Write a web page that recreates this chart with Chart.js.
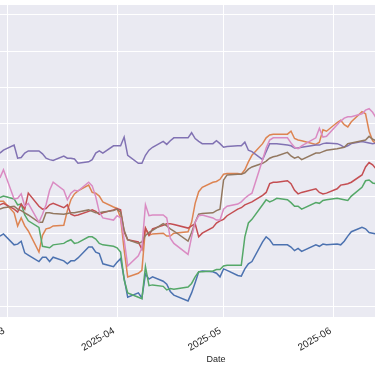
<!DOCTYPE html>
<html><head><meta charset="utf-8">
<script src="https://cdn.jsdelivr.net/npm/chart.js@4/dist/chart.umd.min.js"></script>
<style>
html,body{margin:0;padding:0;background:#fff;overflow:hidden;width:375px;height:366px;}
#wrap{position:absolute;left:0;top:0;width:432px;height:366px;}
</style></head><body>
<div id="wrap"><canvas id="c" width="432" height="366"></canvas></div>
<script>
const dates = ["2025-02-26","2025-02-27","2025-02-28","2025-03-03","2025-03-04","2025-03-05","2025-03-06","2025-03-07","2025-03-10","2025-03-11","2025-03-12","2025-03-13","2025-03-14","2025-03-17","2025-03-18","2025-03-19","2025-03-20","2025-03-21","2025-03-24","2025-03-25","2025-03-26","2025-03-27","2025-03-28","2025-03-31","2025-04-01","2025-04-02","2025-04-03","2025-04-04","2025-04-07","2025-04-08","2025-04-09","2025-04-10","2025-04-11","2025-04-14","2025-04-15","2025-04-16","2025-04-17","2025-04-21","2025-04-22","2025-04-23","2025-04-24","2025-04-25","2025-04-28","2025-04-29","2025-04-30","2025-05-01","2025-05-02","2025-05-05","2025-05-06","2025-05-07","2025-05-08","2025-05-09","2025-05-12","2025-05-13","2025-05-14","2025-05-15","2025-05-16","2025-05-19","2025-05-20","2025-05-21","2025-05-22","2025-05-23","2025-05-27","2025-05-28","2025-05-29","2025-05-30","2025-06-02","2025-06-03","2025-06-04","2025-06-05","2025-06-06","2025-06-09","2025-06-10","2025-06-11","2025-06-12","2025-06-13"];

const blue = [89.3,89.6,89.9,88.4,88.5,88.9,87.3,87.0,86.1,86.7,86.7,86.1,86.7,86.2,85.8,86.2,86.2,86.6,88.1,88.1,87.4,87.2,85.8,85.4,86.0,86.5,83.8,81.2,81.8,81.1,84.4,83.7,84.0,83.4,83.0,82.0,81.5,80.7,81.8,83.2,84.7,84.8,84.7,84.5,84.0,85.1,84.9,84.2,84.1,85.1,85.8,86.1,88.8,89.5,89.1,88.4,88.4,88.4,88.1,87.6,87.9,87.5,88.4,88.2,88.5,88.4,88.5,88.4,88.9,89.6,90.2,90.8,90.6,90.1,90.0,89.9];
const orange = [94.1,94.4,94.4,92.8,91.0,92.1,91.0,90.3,87.4,89.7,90.6,90.7,91.0,91.1,93.1,94.6,95.4,95.8,96.6,95.6,95.5,95.1,94.3,93.6,93.4,92.1,87.7,84.0,84.5,84.9,90.7,89.7,89.9,90.0,89.6,89.6,90.0,90.2,91.5,94.1,95.7,96.3,97.0,97.1,97.4,98.1,98.2,98.2,98.1,98.7,99.8,100.7,102.3,103.1,103.5,103.6,103.6,103.6,104.0,103.0,102.8,102.7,102.2,102.5,104.2,104.0,105.2,105.5,104.9,104.6,105.3,106.7,106.4,104.0,102.7,102.3];
const green = [94.6,94.9,95.1,94.7,93.9,94.0,92.5,91.7,90.8,88.2,88.1,88.0,88.4,88.6,88.9,89.1,88.6,88.7,89.5,89.5,89.2,88.6,88.4,88.2,88.0,87.4,83.6,81.8,81.2,81.0,85.4,82.8,82.9,82.7,82.2,82.4,82.3,82.6,83.1,84.0,84.7,84.7,84.8,85.0,85.0,85.5,85.6,85.6,85.6,89.5,91.4,91.9,93.9,94.6,94.3,94.5,94.8,94.6,94.2,93.7,93.7,93.3,94.2,94.1,94.5,94.6,94.8,94.7,94.6,94.5,95.1,96.3,97.2,97.3,96.9,96.8];
const red = [93.6,93.9,94.1,93.3,92.9,94.0,93.3,95.5,93.7,93.3,93.4,93.9,94.1,93.5,93.9,92.6,92.4,92.5,93.0,93.2,93.0,92.6,92.8,93.2,93.4,93.2,90.2,89.1,88.8,87.8,90.7,89.7,90.6,91.1,91.3,91.3,91.2,90.7,91.0,91.3,89.5,90.0,90.8,91.4,91.7,91.9,92.4,93.3,93.5,93.9,94.1,94.3,95.2,95.6,96.8,97.0,97.0,97.2,96.8,95.9,95.4,95.6,96.1,95.6,95.4,95.5,96.1,96.6,96.7,96.8,97.0,98.0,99.1,99.7,99.4,98.8];
const purple = [100.7,101.0,101.4,102.1,100.3,100.4,101.0,101.3,101.3,100.9,100.3,100.1,100.0,100.6,100.3,100.3,100.2,99.6,99.8,100.1,101.0,101.3,101.0,102.0,102.0,102.0,103.2,100.7,99.6,99.6,100.7,101.4,101.8,102.6,102.2,102.7,103.1,103.1,103.8,103.0,102.6,102.3,102.3,102.7,102.3,101.8,101.9,102.0,102.0,102.5,101.4,101.2,100.1,101.2,102.3,102.3,102.3,102.1,102.0,101.7,101.7,101.8,102.1,102.1,102.3,102.4,102.3,102.1,101.8,102.0,102.3,102.6,102.5,102.4,102.3,102.4];
const brown = [93.3,93.3,93.5,93.7,93.3,93.1,92.8,92.5,91.5,91.5,92.8,92.8,92.7,92.6,92.7,92.8,92.8,92.9,93.2,93.0,92.8,92.8,92.9,93.1,93.3,92.9,90.4,89.1,88.6,88.8,89.7,90.1,90.4,91.3,91.0,90.6,90.3,88.9,90.1,91.5,92.6,92.7,92.8,93.1,93.3,97.3,98.0,98.1,98.1,98.3,98.8,99.1,99.6,99.9,100.3,100.5,100.6,101.1,100.6,100.3,100.5,100.1,101.0,101.0,101.2,101.4,101.6,101.7,101.8,102.3,102.4,102.7,102.8,103.3,102.9,102.7];
const pink = [97.0,97.6,98.7,94.7,94.8,95.4,93.7,94.1,91.5,92.6,93.9,95.9,97.0,95.9,94.6,95.5,95.9,95.8,97.0,96.5,95.0,92.9,92.1,91.8,92.4,92.1,89.1,85.5,86.9,88.0,93.9,92.4,92.5,92.5,92.1,89.3,88.6,87.1,89.5,91.5,92.4,92.5,92.1,91.8,91.8,93.3,93.7,94.0,94.3,94.8,95.2,95.5,100.1,101.7,102.8,103.1,103.1,103.1,102.4,101.8,101.6,102.0,103.1,104.4,103.2,103.3,104.9,105.4,105.8,106.0,106.0,106.4,106.9,107.1,106.6,105.8];

const monthTicks = ["2025-03-01","2025-04-01","2025-05-01","2025-06-01"];
const yTicks = [80,85,90,95,100,105,110,115,120];

const seriesList = [
  {name:"S1", values:blue,   color:"#4c72b0"},
  {name:"S2", values:orange, color:"#dd8452"},
  {name:"S3", values:green,  color:"#55a868"},
  {name:"S4", values:red,    color:"#c44e52"},
  {name:"S5", values:purple, color:"#8172b3"},
  {name:"S6", values:brown,  color:"#937860"},
  {name:"S7", values:pink,   color:"#da8bc3"}
];

const ts = s => Date.parse(s + "T00:00:00Z");
const DAY = 86400000;
const xMin = ts("2025-03-01") - 1.972 * DAY;
const xMax = ts("2025-03-01") + 119.72 * DAY;

const datasets = seriesList.map((s, i) => ({
  label: s.name,
  data: dates.map((d, k) => ({x: ts(d), y: s.values[k]})),
  borderColor: s.color,
  backgroundColor: s.color,
  borderWidth: 1.5,
  pointRadius: 0,
  tension: 0,
  fill: false,
  order: seriesList.length - i
}));

const bgPlugin = {
  id: "bg",
  beforeDraw(chart) {
    const {ctx, chartArea: a} = chart;
    ctx.save();
    ctx.fillStyle = "#ffffff";
    ctx.fillRect(0, 0, chart.width, chart.height);
    ctx.fillStyle = "#eaeaf2";
    ctx.fillRect(a.left, a.top, a.right - a.left, a.bottom - a.top);
    ctx.restore();
  }
};

const tickFont = {family: "'Liberation Sans', Arial, sans-serif", size: 10};
const titleFont = {family: "'Liberation Sans', Arial, sans-serif", size: 9};

new Chart(document.getElementById("c"), {
  type: "line",
  data: {datasets},
  plugins: [bgPlugin],
  options: {
    responsive: false,
    animation: false,
    devicePixelRatio: 1,
    layout: {padding: {top: 5, left: 0, right: 0, bottom: 0}},
    plugins: {legend: {display: false}, tooltip: {enabled: false}},
    scales: {
      x: {
        type: "linear",
        min: xMin,
        max: xMax,
        afterBuildTicks: s => { s.ticks = monthTicks.map(m => ({value: ts(m)})); },
        afterFit: s => { s.paddingLeft = 0; s.paddingRight = 0; s.height = 49; },
        grid: {color: "#ffffff", lineWidth: 1, drawTicks: false},
        border: {display: false},
        ticks: {
          autoSkip: false, minRotation: 30, maxRotation: 30, padding: 8, labelOffset: -3,
          color: "#262626", font: tickFont,
          callback: v => { const d = new Date(v); return d.getUTCFullYear() + "-" + String(d.getUTCMonth() + 1).padStart(2, "0"); }
        },
        title: {display: true, text: "Date", color: "#262626", font: titleFont, padding: {top: 0, bottom: 1}}
      },
      y: {
        type: "linear",
        min: 78.49,
        max: 121.34,
        afterBuildTicks: s => { s.ticks = yTicks.map(v => ({value: v})); },
        afterFit: s => { s.width = 0; },
        grid: {color: "#ffffff", lineWidth: 1, drawTicks: false},
        border: {display: false},
        ticks: {display: false}
      }
    }
  }
});
</script>
</body></html>
